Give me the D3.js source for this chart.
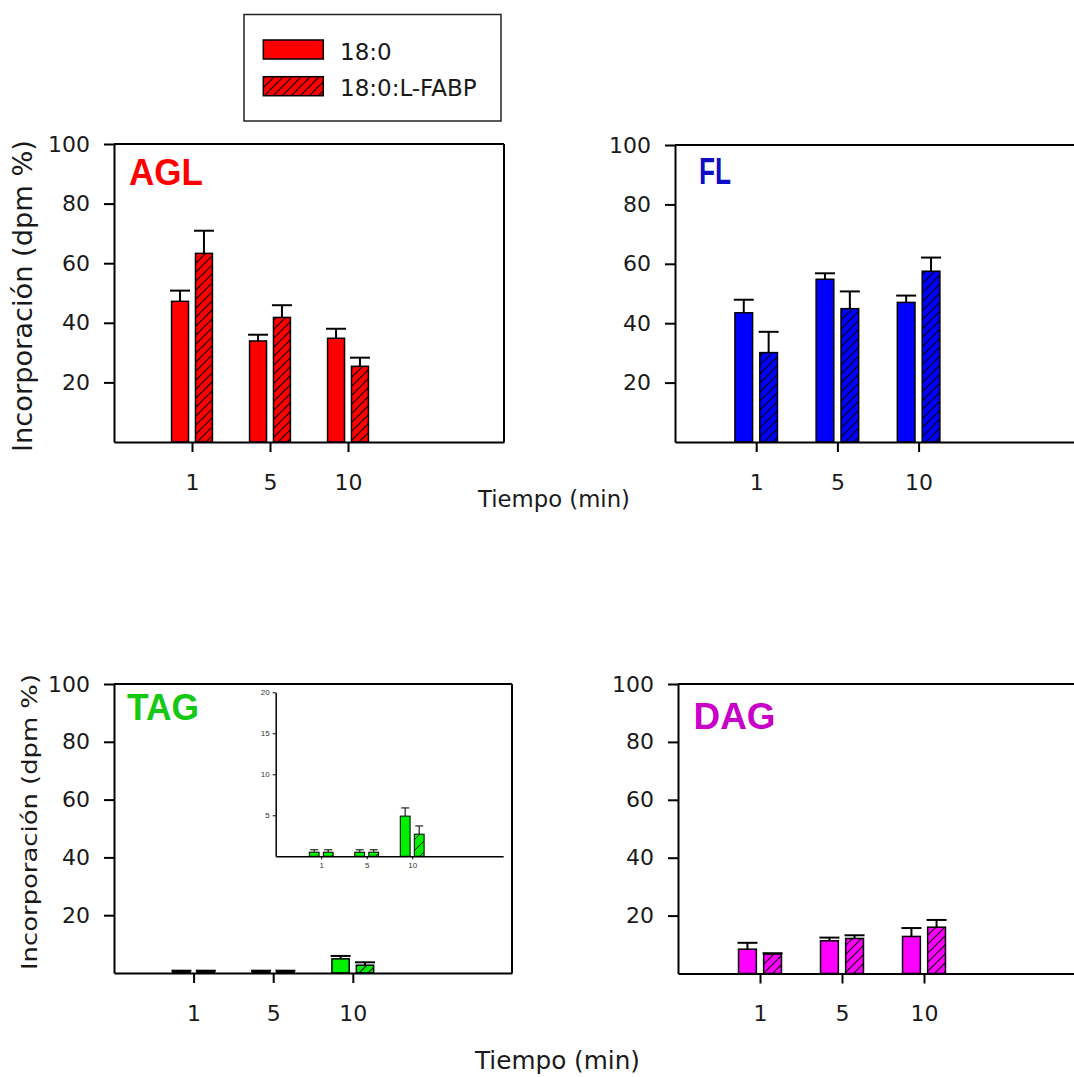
<!DOCTYPE html>
<html>
<head>
<meta charset="utf-8">
<script src="https://cdn.jsdelivr.net/npm/d3@7"></script>
<style>
  html, body { margin: 0; padding: 0; background: #ffffff; }
  svg { display: block; }
</style>
</head>
<body>
<svg id="chart" width="1074" height="1077"></svg>
<script>
// ---------------- DATA ----------------
const times = ["1", "5", "10"];
const seriesNames = ["18:0", "18:0:L-FABP"];
const yTickValues = [20, 40, 60, 80, 100];
const insetTickValues = [5, 10, 15, 20];

const aglControl = [47.2, 33.9, 34.8];
const aglControlErr = [3.6, 2.1, 3.2];
const aglFabp = [63.3, 41.8, 25.4];
const aglFabpErr = [7.6, 4.1, 2.9];

const flControl = [43.5, 54.8, 47.0];
const flControlErr = [4.4, 2.0, 2.3];
const flFabp = [30.1, 44.9, 57.5];
const flFabpErr = [7.0, 5.8, 4.6];

const tagControl = [0.5, 0.5, 4.9];
const tagControlErr = [0.3, 0.3, 1.0];
const tagFabp = [0.5, 0.5, 2.7];
const tagFabpErr = [0.3, 0.3, 1.0];

const dagControl = [8.4, 11.3, 12.8];
const dagControlErr = [2.2, 1.1, 2.9];
const dagFabp = [6.7, 12.1, 16.0];
const dagFabpErr = [0.3, 1.1, 2.5];

const panelNames = ["AGL", "FL", "TAG", "DAG"];
const xTitle = "Tiempo (min)";
const yTitle = "Incorporación (dpm %)";

// ---------------- LAYOUT / STYLE ----------------
const svg = d3.select("#chart");
const FONT = "'DejaVu Sans', sans-serif";
const TITLEFONT = "'Liberation Sans', Arial, sans-serif";

const defs = svg.append("defs");
function hatch(id, bg, size, sw) {
  const p = defs.append("pattern").attr("id", id)
    .attr("patternUnits", "userSpaceOnUse")
    .attr("width", size).attr("height", size);
  p.append("rect").attr("width", size).attr("height", size).attr("fill", bg);
  p.append("path")
    .attr("d", `M0,${size} L${size},0 M${-size/2},${size/2} L${size/2},${-size/2} M${size/2},${size*1.5} L${size*1.5},${size/2}`)
    .attr("stroke", "#000").attr("stroke-width", sw);
  return `url(#${id})`;
}

const panels = [
  { name: panelNames[0], color: "#ff0000", labelColor: "#ff0000", left: 114, right: 504, top: 144, bottom: 442,
    ctrl: aglControl, ctrlErr: aglControlErr, fabp: aglFabp, fabpErr: aglFabpErr,
    label: { x: 129, y: 185, weight: "bold", len: 74 } },
  { name: panelNames[1], color: "#0000ff", labelColor: "#0d0dc4", left: 675, right: 1081, top: 145, bottom: 442,
    ctrl: flControl, ctrlErr: flControlErr, fabp: flFabp, fabpErr: flFabpErr,
    label: { x: 699, y: 183.5, weight: "bold", len: 32 } },
  { name: panelNames[2], color: "#00f000", labelColor: "#14c814", left: 114, right: 512, top: 684, bottom: 973,
    ctrl: tagControl, ctrlErr: tagControlErr, fabp: tagFabp, fabpErr: tagFabpErr,
    label: { x: 127, y: 719.5, weight: "bold", len: 72 } },
  { name: panelNames[3], color: "#ff00ff", labelColor: "#c800c8", left: 678, right: 1088, top: 684, bottom: 973.5,
    ctrl: dagControl, ctrlErr: dagControlErr, fabp: dagFabp, fabpErr: dagFabpErr,
    label: { x: 693.5, y: 729, weight: "bold", len: 82 } }
];

function drawBars(g, x, y, inner, p, fills, capW, errStroke, errWidth, barStroke) {
  const series = [
    { key: seriesNames[0], vals: p.ctrl, errs: p.ctrlErr, fill: fills[0] },
    { key: seriesNames[1], vals: p.fabp, errs: p.fabpErr, fill: fills[1] }
  ];
  series.forEach(s => {
    const data = times.map((t, i) => ({ t, v: s.vals[i], e: s.errs[i] }));
    const cx = d => x(d.t) + inner(s.key) + inner.bandwidth() / 2;
    g.selectAll(null).data(data).join("line")
      .attr("x1", cx).attr("x2", cx)
      .attr("y1", d => y(d.v)).attr("y2", d => y(d.v + d.e))
      .attr("stroke", errStroke).attr("stroke-width", errWidth);
    g.selectAll(null).data(data).join("line")
      .attr("x1", d => cx(d) - capW / 2).attr("x2", d => cx(d) + capW / 2)
      .attr("y1", d => y(d.v + d.e)).attr("y2", d => y(d.v + d.e))
      .attr("stroke", errStroke).attr("stroke-width", errWidth);
    g.selectAll(null).data(data).join("rect")
      .attr("x", d => x(d.t) + inner(s.key))
      .attr("width", inner.bandwidth())
      .attr("y", d => y(d.v))
      .attr("height", d => y(0) - y(d.v))
      .attr("fill", s.fill)
      .attr("stroke", "#000").attr("stroke-width", barStroke);
  });
}

panels.forEach((p, idx) => {
  const g = svg.append("g");
  const x = d3.scalePoint().domain(times).range([p.left, p.right]).padding(1.5).align(1 / 3);
  const y = d3.scaleLinear().domain([0, 100]).range([p.bottom, p.top]);
  const step = x.step();
  const inner = d3.scaleBand().domain(seriesNames)
    .range([-0.262 * step, 0.262 * step]).paddingInner(0.29);

  const solid = p.color;
  const hatched = hatch("h" + idx, p.color, 9, 1.1);
  drawBars(g, x, y, inner, p, [solid, hatched], 20, "#000", 2, 1.5);

  g.append("line").attr("x1", p.left).attr("x2", p.right).attr("y1", p.top).attr("y2", p.top)
    .attr("stroke", "#000").attr("stroke-width", 2);
  g.append("line").attr("x1", p.right).attr("x2", p.right).attr("y1", p.top).attr("y2", p.bottom)
    .attr("stroke", "#000").attr("stroke-width", 2);

  const ya = g.append("g").attr("transform", `translate(${p.left},0)`)
    .call(d3.axisLeft(y).tickValues(yTickValues).tickSize(10).tickSizeOuter(0).tickPadding(14));
  const xa = g.append("g").attr("transform", `translate(0,${p.bottom})`)
    .call(d3.axisBottom(x).tickSize(10).tickSizeOuter(0).tickPadding(22));
  [ya, xa].forEach(a => {
    a.attr("font-family", FONT).attr("font-size", 22);
    a.selectAll("path.domain").attr("stroke", "#000").attr("stroke-width", 2);
    a.selectAll(".tick line").attr("stroke", "#000").attr("stroke-width", 2);
    a.selectAll(".tick text").attr("fill", "#1a1a1a");
  });

  g.append("text").attr("x", p.label.x).attr("y", p.label.y)
    .attr("font-family", TITLEFONT).attr("font-size", 36).attr("font-weight", p.label.weight)
    .attr("fill", p.labelColor)
    .attr("textLength", p.label.len).attr("lengthAdjust", "spacingAndGlyphs")
    .text(p.name);

  if (p.name === "TAG") {
    const ig = svg.append("g");
    const ix = d3.scalePoint().domain(times).range([275.7, 503.2]).padding(1.5).align(1 / 3);
    const iy = d3.scaleLinear().domain([0, 20]).range([856.3, 692.3]);
    const istep = ix.step();
    const iinner = d3.scaleBand().domain(seriesNames)
      .range([-0.262 * istep, 0.262 * istep]).paddingInner(0.3);
    const ihatch = hatch("hInset", p.color, 11, 1);
    drawBars(ig, ix, iy, iinner, p, [solid, ihatch], 8, "#333", 1.3, 1);
    const iya = ig.append("g").attr("transform", "translate(275.7,0)")
      .call(d3.axisLeft(iy).tickValues(insetTickValues).tickSize(3).tickSizeOuter(0).tickPadding(3));
    const ixa = ig.append("g").attr("transform", "translate(0,856.3)")
      .call(d3.axisBottom(ix).tickSize(3).tickSizeOuter(0).tickPadding(3));
    [iya, ixa].forEach(a => {
      a.attr("font-family", TITLEFONT).attr("font-size", 8);
      a.selectAll("path.domain").attr("stroke", "#000").attr("stroke-width", 1.5);
      a.selectAll(".tick line").attr("stroke", "#000").attr("stroke-width", 1);
      a.selectAll(".tick text").attr("fill", "#333");
    });
  }
});

svg.append("text").attr("x", 554).attr("y", 507).attr("text-anchor", "middle")
  .attr("font-family", FONT).attr("font-size", 23).attr("fill", "#1a1a1a")
  .attr("textLength", 152).attr("lengthAdjust", "spacingAndGlyphs").text(xTitle);
svg.append("text").attr("x", 557.5).attr("y", 1069).attr("text-anchor", "middle")
  .attr("font-family", FONT).attr("font-size", 25).attr("fill", "#1a1a1a")
  .attr("textLength", 165).attr("lengthAdjust", "spacingAndGlyphs").text(xTitle);
svg.append("text").attr("transform", "translate(32,296) rotate(-90)").attr("text-anchor", "middle")
  .attr("font-family", FONT).attr("font-size", 26).attr("fill", "#1a1a1a")
  .attr("textLength", 312).attr("lengthAdjust", "spacingAndGlyphs").text(yTitle);
svg.append("text").attr("transform", "translate(37,822) rotate(-90)").attr("text-anchor", "middle")
  .attr("font-family", FONT).attr("font-size", 22).attr("fill", "#1a1a1a")
  .attr("textLength", 296).attr("lengthAdjust", "spacingAndGlyphs").text(yTitle);

const lg = svg.append("g");
lg.append("rect").attr("x", 244).attr("y", 14.5).attr("width", 257).attr("height", 106.5)
  .attr("fill", "#fff").attr("stroke", "#222").attr("stroke-width", 1.5);
const legendFills = ["#ff0000", "url(#h0)"];
const legendY = d3.scalePoint().domain(seriesNames).range([40, 76.7]);
seriesNames.forEach((s, i) => {
  lg.append("rect").attr("x", 263.3).attr("y", legendY(s)).attr("width", 60).attr("height", 19)
    .attr("fill", legendFills[i]).attr("stroke", "#000").attr("stroke-width", 1.5);
  lg.append("text").attr("x", 340).attr("y", legendY(s) + 19.5)
    .attr("font-family", FONT).attr("font-size", 23).attr("fill", "#1a1a1a").text(s);
});
</script>
</body>
</html>
